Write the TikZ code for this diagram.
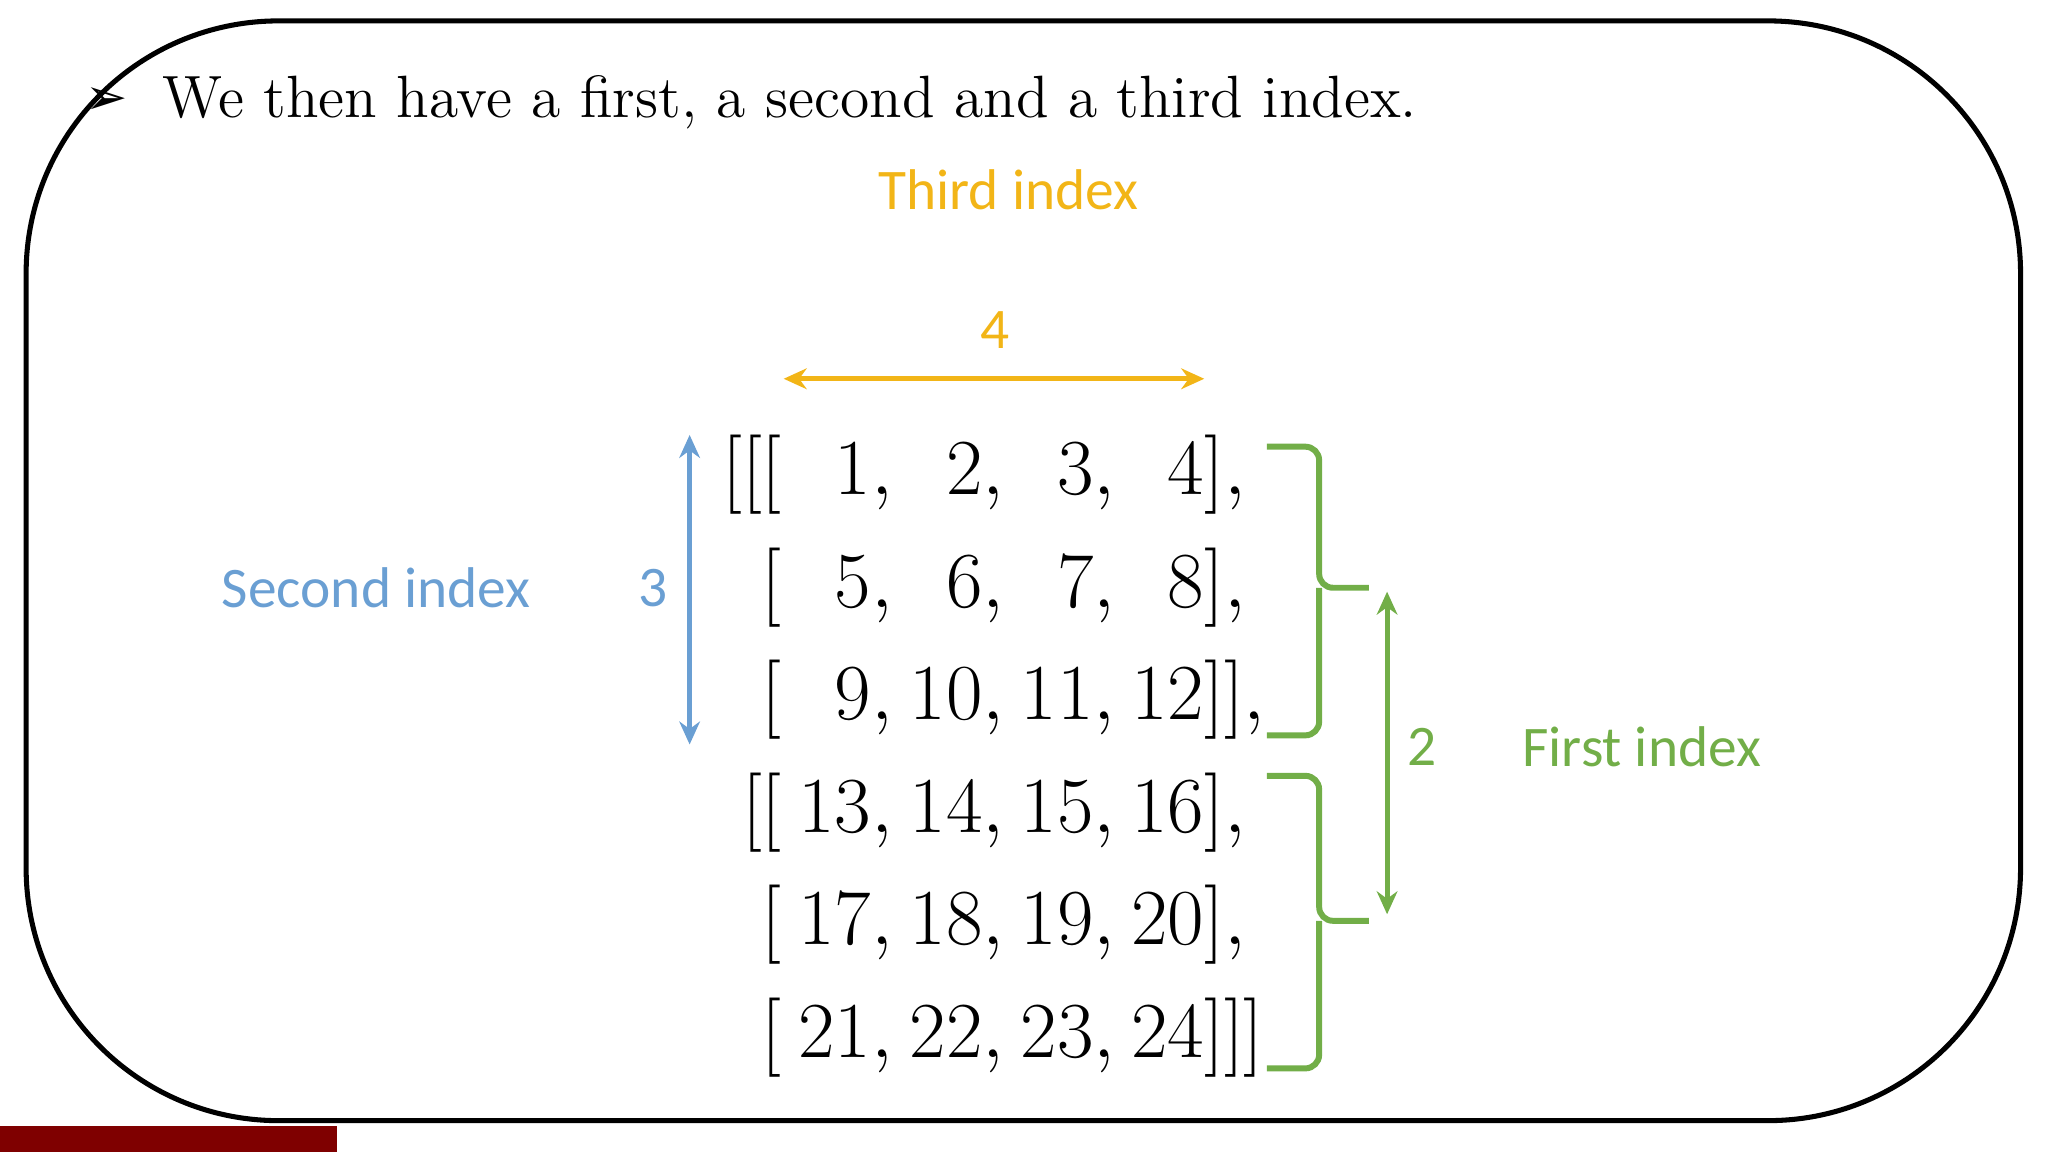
\documentclass[tikz,border=0pt]{standalone}
\usepackage{fontspec}
\newfontfamily\calib{Carlito}
\newfontfamily\djv{DejaVu Sans}
\definecolor{orng}{HTML}{F2B517}
\definecolor{blu}{HTML}{6A9FD3}
\definecolor{grn}{HTML}{72AE48}
\definecolor{dred}{HTML}{7F0000}
\newcommand{\nb}[1]{\makebox[24.2pt][r]{$#1$}}
\newcommand{\nl}[1]{\makebox[19.4pt][r]{$#1$}}
\tikzset{lab/.style={font=\calib\fontsize{12.5}{14}\selectfont},
 arr/.style={line width=1.1pt,<->,>={Stealth[length=5pt,width=4.5pt]}},
 brc/.style={line width=1.3pt,grn,rounded corners=3pt}}
\usetikzlibrary{arrows.meta}
\begin{document}
\begin{tikzpicture}[x=0.01cm,y=-0.01cm]
\useasboundingbox (0,0) rectangle (1568,882);
\draw[line width=1.1pt,rounded corners=55] (20,16) rectangle (1547,858);
\fill[dred] (0,862) rectangle (258,882);
\node[anchor=base,inner sep=0] (bul) at (82,88) {\djv\fontsize{11}{13}\selectfont ➢};
\node[anchor=base west,inner sep=0] (title) at (124,90) {\fontsize{13}{15}\selectfont We then have a first, a second and a third index.};
\node[lab,text=orng] (third) at (772,145) {Third index};
\node[lab,text=orng] (four) at (762,253) {4};
\coordinate (oa) at (600,290); \coordinate (ob) at (922,290);
\draw[arr,orng] (oa) -- (ob);
\node[lab,text=blu] (second) at (288,450) {Second index};
\node[lab,text=blu] (three) at (500,450) {3};
\coordinate (ba) at (528,333); \coordinate (bb) at (528,570);
\draw[arr,blu] (ba) -- (bb);
\node[inner sep=0] (mat) at (761,577) {\fontsize{17.5}{24.5}\selectfont$\renewcommand{\arraystretch}{1}\begin{array}{@{}r@{}l@{}l@{}l@{}l@{}l@{}}
{[}{[}{[} & \nb{1,} & \nb{2,} & \nb{3,} & \nl{4} & {]}, \\
{[} & \nb{5,} & \nb{6,} & \nb{7,} & \nl{8} & {]}, \\
{[} & \nb{9,} & \nb{10,} & \nb{11,} & \nl{12} & {]}{]}, \\
{[}{[} & \nb{13,} & \nb{14,} & \nb{15,} & \nl{16} & {]}, \\
{[} & \nb{17,} & \nb{18,} & \nb{19,} & \nl{20} & {]}, \\
{[} & \nb{21,} & \nb{22,} & \nb{23,} & \nl{24} & {]}{]}{]}
\end{array}$};
\draw[brc] (970,342) -- (1010,342) -- (1010,450) -- (1048,450);
\draw[brc] (970,563) -- (1010,563) -- (1010,450);
\draw[brc] (970,594) -- (1010,594) -- (1010,705) -- (1048,705);
\draw[brc] (970,818) -- (1010,818) -- (1010,705);
\coordinate (ga) at (1062,453); \coordinate (gb) at (1062,700);
\draw[arr,grn] (ga) -- (gb);
\node[lab,text=grn] (two) at (1089,572) {2};
\node[lab,text=grn] (first) at (1257,572) {First index};
\end{tikzpicture}
\end{document}
